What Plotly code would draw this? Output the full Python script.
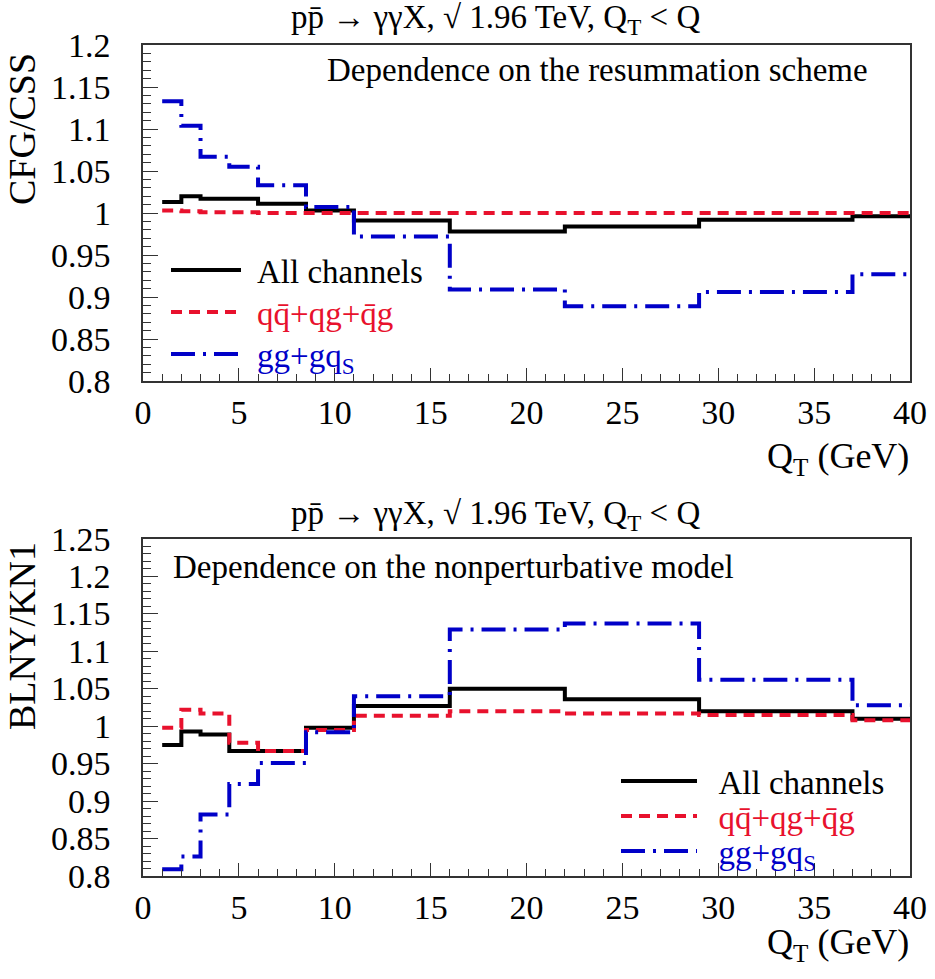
import plotly.graph_objects as go

# ---------------- data ----------------
edges = [1, 2, 3, 4.5, 6, 8.5, 11, 16, 22, 29, 37, 40]

top_all = [1.013, 1.020, 1.017, 1.017, 1.011, 1.003, 0.991, 0.978, 0.984, 0.992, 0.996]
top_qq = [1.003, 1.002, 1.001, 1.001, 1.000, 1.000, 1.000, 1.000, 1.000, 1.000, 1.000]
top_gg = [1.133, 1.104, 1.067, 1.055, 1.033, 1.007, 0.972, 0.909, 0.889, 0.906, 0.927]

bot_all = [0.975, 0.993, 0.989, 0.967, 0.967, 0.998, 1.027, 1.050, 1.036, 1.020, 1.010]
bot_qq = [0.998, 1.022, 1.017, 0.978, 0.967, 0.995, 1.014, 1.020, 1.017, 1.015, 1.008]
bot_gg = [0.809, 0.826, 0.882, 0.923, 0.951, 0.992, 1.040, 1.129, 1.137, 1.062, 1.028]

top_yticks = [0.8, 0.85, 0.9, 0.95, 1.0, 1.05, 1.1, 1.15, 1.2]
top_ylabels = ["0.8", "0.85", "0.9", "0.95", "1", "1.05", "1.1", "1.15", "1.2"]
bot_yticks = [0.8, 0.85, 0.9, 0.95, 1.0, 1.05, 1.1, 1.15, 1.2, 1.25]
bot_ylabels = ["0.8", "0.85", "0.9", "0.95", "1", "1.05", "1.1", "1.15", "1.2", "1.25"]
xticks = [0, 5, 10, 15, 20, 25, 30, 35, 40]

names = ["All channels",
         "<span style='color:#e8112d'>qq\u0304+qg+q\u0304g</span>",
         "<span style='color:#0000c8'>gg+gq<sub>S</sub></span>"]

# ---------------- styles ----------------
FONT = "Liberation Serif"
styles = [dict(color="black", width=4, dash="solid"),
          dict(color="#e8112d", width=4, dash="11px,7px"),
          dict(color="#0000c8", width=4, dash="24px,8px,3px,8px")]

W, H = 935, 979
def px(x):
    return x / W
def py(y):
    return 1 - y / H

fig = go.Figure()

def step(v):
    return v + [v[-1]]

top_leg = ["legend", "legend2", "legend3"]
bot_leg = ["legend4", "legend5", "legend6"]
for i, (vals, st) in enumerate(zip([top_all, top_qq, top_gg], styles)):
    fig.add_trace(go.Scatter(x=edges, y=step(vals), mode="lines", line_shape="hv",
                             line=st, name="\u00a0\u200a" + names[i], xaxis="x", yaxis="y",
                             legend=top_leg[i], showlegend=True))
for i, (vals, st) in enumerate(zip([bot_all, bot_qq, bot_gg], styles)):
    fig.add_trace(go.Scatter(x=edges, y=step(vals), mode="lines", line_shape="hv",
                             line=st, name="\u00a0\u00a0" + names[i], xaxis="x2", yaxis="y2",
                             legend=bot_leg[i], showlegend=True))

xdom = [px(143), px(910)]
xcommon = dict(showgrid=False, zeroline=False, showline=True, linecolor="#333",
               linewidth=2, mirror=True, ticks="inside", tickcolor="#333",
               tickfont=dict(family=FONT, size=34, color="black"))
ycommon = dict(xcommon, showticklabels=False)

legs = {}
for name, xl, yc, iw in [("legend", 166, 270, 70), ("legend2", 166, 312, 70), ("legend3", 166, 354, 70),
                         ("legend4", 616, 781, 76), ("legend5", 616, 816, 76), ("legend6", 616, 851, 76)]:
    legs[name] = dict(x=px(xl), y=py(yc), xanchor="left", yanchor="middle",
                      bgcolor="rgba(0,0,0,0)", itemwidth=iw, visible=True,
                      font=dict(family=FONT, size=33, color="black"))

fig.update_layout(
    width=W, height=H, margin=dict(l=0, r=0, t=0, b=0, autoexpand=False),
    paper_bgcolor="white", plot_bgcolor="white", showlegend=True,
    font=dict(family=FONT, size=30, color="black"),
    xaxis=dict(domain=xdom, anchor="y", range=[0, 40], tickvals=xticks,
               ticklen=13, tickwidth=1,
               minor=dict(dtick=1, ticklen=7, tickcolor="#333", ticks="inside"),
               **xcommon),
    yaxis=dict(domain=[py(381), py(45)], anchor="x", range=[0.8, 1.2],
               tickvals=top_yticks, ticklen=15,
               minor=dict(dtick=0.01, ticklen=8, tickcolor="#333", ticks="inside"),
               **ycommon),
    xaxis2=dict(domain=xdom, anchor="y2", range=[0, 40], tickvals=xticks,
                ticklen=13, tickwidth=1,
                minor=dict(dtick=1, ticklen=7, tickcolor="#333", ticks="inside"),
                **xcommon),
    yaxis2=dict(domain=[py(876), py(539)], anchor="x2", range=[0.8, 1.25],
                tickvals=bot_yticks, ticklen=15,
                minor=dict(dtick=0.01, ticklen=8, tickcolor="#333", ticks="inside"),
                **ycommon),
    **legs,
)

title = "pp\u0304 \u2192 \u03b3\u03b3X, \u221a 1.96 TeV, Q<sub>T</sub> &lt; Q"
ann = [
    dict(text=title, x=px(495), y=py(20), xanchor="center", yanchor="middle", font=dict(size=33)),
    dict(text=title, x=px(495), y=py(515), xanchor="center", yanchor="middle", font=dict(size=33)),
    dict(text="Dependence on the resummation scheme", x=px(870), y=py(70),
         xanchor="right", yanchor="middle", font=dict(size=33)),
    dict(text="Dependence on the nonperturbative model", x=px(171), y=py(567),
         xanchor="left", yanchor="middle", font=dict(size=33)),
    dict(text="CFG/CSS", x=px(22), y=py(129), textangle=-90, xanchor="center",
         yanchor="middle", font=dict(size=38)),
    dict(text="BLNY/KN1", x=px(22), y=py(636), textangle=-90, xanchor="center",
         yanchor="middle", font=dict(size=38)),
    dict(text="Q<sub>T</sub> (GeV)", x=px(911), y=py(458), xanchor="right",
         yanchor="middle", font=dict(size=36)),
    dict(text="Q<sub>T</sub> (GeV)", x=px(911), y=py(944), xanchor="right",
         yanchor="middle", font=dict(size=36)),
]
for a in ann:
    a.update(xref="paper", yref="paper", showarrow=False)

# y tick labels placed on the axes' own scales
for vals, labs, yr in [(top_yticks, top_ylabels, "y"), (bot_yticks, bot_ylabels, "y2")]:
    for v, lab in zip(vals, labs):
        ann.append(dict(text=lab, x=px(113), xref="paper", y=v, yref=yr,
                        xanchor="right", yanchor="middle", showarrow=False,
                        font=dict(size=34)))

for a in ann:
    a["font"] = dict(family=FONT, color="black", **a["font"])
fig.update_layout(annotations=ann)

# remove the default 8px body margin so the figure fills the window exactly
fig.write_html("out.html", config={"displayModeBar": False},
               post_script="document.body.style.margin='0';")
